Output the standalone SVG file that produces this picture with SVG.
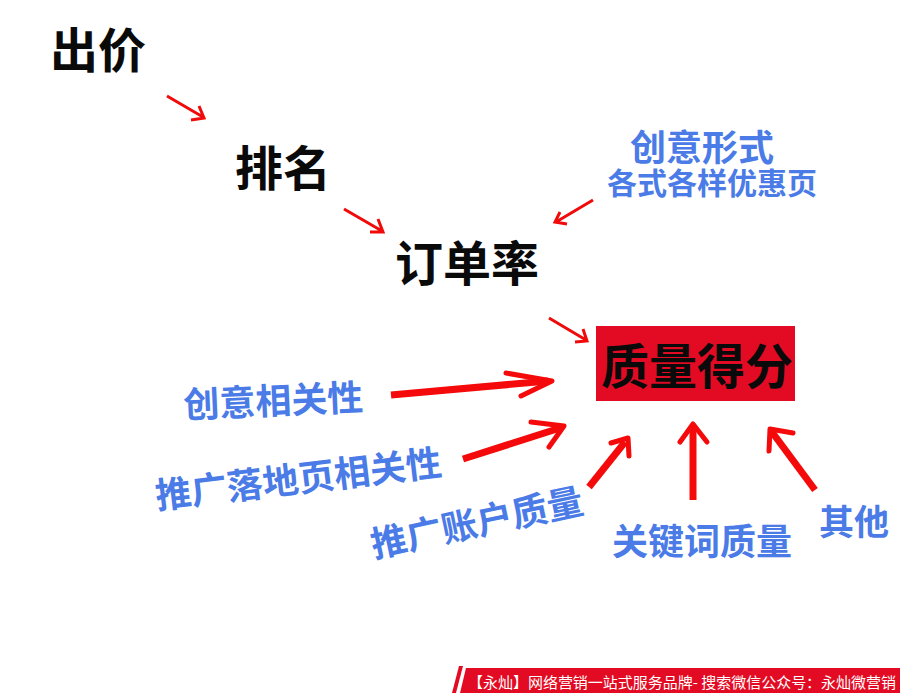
<svg xmlns="http://www.w3.org/2000/svg" width="900" height="693" viewBox="0 0 900 693">
<style>
.k{font-family:"Noto Sans CJK SC","Noto Sans",sans-serif;font-weight:700;fill:#0a0a0a;font-size:48px}
.b{font-family:"Noto Sans CJK SC","Noto Sans",sans-serif;font-weight:700;fill:#4a7be6;font-size:36px}
.thin{stroke:#f00a0a;stroke-width:3;fill:none;stroke-linecap:butt;stroke-linejoin:miter}
.shaft{stroke:#f40a0a;stroke-width:7;fill:none}
.barb{stroke:#f40a0a;stroke-width:5;fill:none;stroke-linecap:round;stroke-linejoin:round}
.ft{font-family:"Noto Sans CJK SC","Noto Sans",sans-serif;font-weight:400;fill:#ffffff;font-size:15px}
</style>
<rect width="900" height="693" fill="#ffffff"/>
<g id="bid"><text class="k" x="50" y="68">出价</text></g>
<g id="rank"><text class="k" x="235" y="186">排名</text></g>
<g id="order-rate"><text class="k" x="395" y="281">订单率</text></g>
<g id="creative-form">
<text class="b" x="630" y="161">创意形式</text>
<text class="b" x="607" y="194" style="font-size:30px">各式各样优惠页</text>
</g>
<g id="quality-score">
<rect x="596" y="326" width="199" height="75" fill="#e30b23"/>
<text class="k" x="601" y="384">质量得分</text>
</g>
<g id="creative-relevance"><text class="b" x="184" y="418" transform="rotate(-2.5 184 418)">创意相关性</text></g>
<g id="landing-relevance"><text class="b" x="157" y="509" transform="rotate(-6.8 157 509)">推广落地页相关性</text></g>
<g id="account-quality"><text class="b" x="374" y="558" transform="rotate(-12 374 558)">推广账户质量</text></g>
<g id="keyword-quality"><text class="b" x="612" y="555">关键词质量</text></g>
<g id="other"><text class="b" x="819" y="535" style="font-size:35px">其他</text></g>
<g id="connectors">
<path class="thin" d="M167,96 L203,117 M199,106 L204,118 L191,120"/>
<path class="thin" d="M344,209 L382,231 M378,219 L383,232 L370,232"/>
<path class="thin" d="M593,200 L556,222 M560,212 L555,222 L567,224"/>
<path class="thin" d="M549,318 L586,340 M583,329 L587,341 L575,342"/>
<path class="shaft" d="M391,395 L548,381"/>
<path class="barb" d="M506,373 L552,381 L521,396"/>
<path class="shaft" d="M463,459 L560,428"/>
<path class="barb" d="M531,422 L564,426 L549,447"/>
<path class="shaft" d="M589,487 L625,442"/>
<path class="barb" d="M611,443 L628,438 L629,456"/>
<path class="shaft" d="M693,500 L693,428"/>
<path class="barb" d="M680,442 L693,424 L707,442"/>
<path class="shaft" d="M815,490 L772,432"/>
<path class="barb" d="M793,433 L770,429 L769,451"/>
</g>
<g id="footer">
<polygon points="459,666 463,666 456,693 452,693" fill="#e30b23"/>
<polygon points="466,668 900,668 900,693 460,693" fill="#e30b23"/>
<text class="ft" x="468" y="688" textLength="428" lengthAdjust="spacingAndGlyphs">【永灿】网络营销一站式服务品牌- 搜索微信公众号：永灿微营销</text>
</g>
</svg>
